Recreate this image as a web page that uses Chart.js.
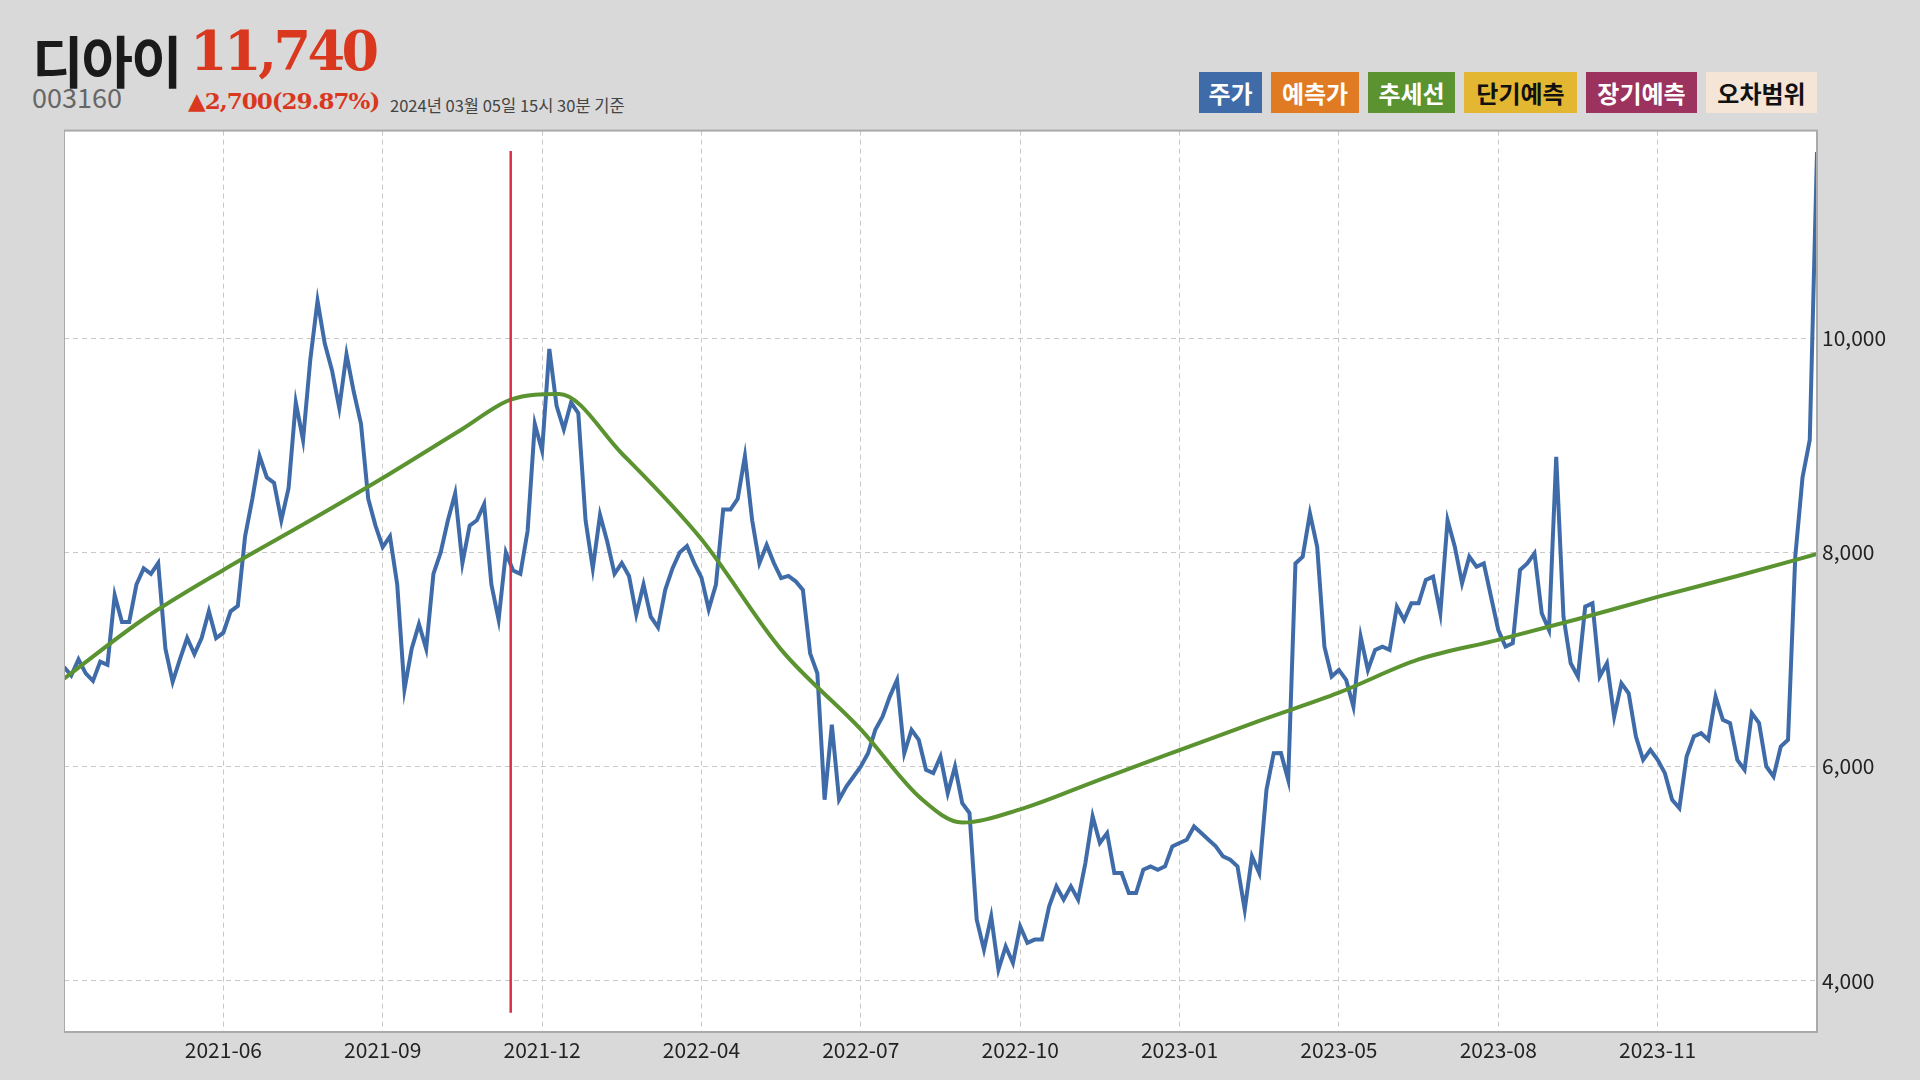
<!DOCTYPE html>
<html><head><meta charset="utf-8">
<script src="https://cdn.jsdelivr.net/npm/chart.js@4"></script>
<style>
html,body{margin:0;padding:0;width:1920px;height:1080px;background:#d9d9d9;overflow:hidden;font-family:"Noto Sans CJK KR","Noto Sans",sans-serif;}
#name{position:absolute;left:32px;top:18px;font-size:56px;font-weight:700;color:#1a1a1a;letter-spacing:-2px;}
#price{position:absolute;left:190px;top:19px;font-family:"DejaVu Serif",serif;font-size:54px;font-weight:700;color:#d9381e;letter-spacing:-3.5px;}
#code{position:absolute;left:32px;top:77px;font-size:27px;color:#666;}
#chg{position:absolute;left:188px;top:87px;font-family:"DejaVu Serif",serif;font-size:23px;font-weight:700;color:#d9381e;letter-spacing:-1px;}
#when{position:absolute;left:390px;top:93px;font-size:16.5px;color:#444;}
.lg{position:absolute;top:72px;height:41px;line-height:41px;text-align:center;font-size:24px;font-weight:700;}
#wrap{position:absolute;left:64px;top:113px;width:1856px;height:967px;}
</style></head><body>
<div id="name">디아이</div>
<div id="price">11,740</div>
<div id="code">003160</div>
<div id="chg">▲2,700(29.87%)</div>
<div id="when">2024년 03월 05일 15시 30분 기준</div>
<div class="lg" style="left:1199px;width:63px;background:#3f6ca9;color:#fff">주가</div>
<div class="lg" style="left:1271px;width:88px;background:#e07b24;color:#fff">예측가</div>
<div class="lg" style="left:1368px;width:87px;background:#5b9330;color:#fff">추세선</div>
<div class="lg" style="left:1464px;width:113px;background:#e3b732;color:#111">단기예측</div>
<div class="lg" style="left:1586px;width:111px;background:#9b335e;color:#fff">장기예측</div>
<div class="lg" style="left:1706px;width:111px;background:#f5e5d6;color:#111">오차범위</div>
<div id="wrap"><canvas id="c"></canvas></div>
<script>
const dayStep = 3;
const prices = [
6930,6850,7000,6870,6800,6980,6950,7600,7350,7350,7700,7850,7800,7900,7100,6790,7000,7200,7050,7200,7450,7200,7250,
7450,7500,8150,8500,8900,8700,8650,8300,8600,9400,9050,9800,10350,9950,9700,9350,9850,9500,9200,8500,8250,8050,8150,7700,6720,7100,7330,7100,7800,
8000,8300,8550,7900,8250,8300,8450,7700,7370,8000,7830,7800,8200,9200,8950,9900,9370,9150,9400,9300,8300,7850,8350,8100,7800,7900,7780,7420,7700,7400,7300,7650,7850,8000,8060,7900,7764,7469,7700,8400,8400,8500,8900,8300,7900,8070,7900,7760,7780,7730,7650,
7057,6870,5690,6390,5690,5813,5907,6000,6124,6342,6466,6653,6808,6124,6342,6248,5969,5938,6093,5751,6000,5658,5565,4569,4290,4600,4103,4320,4165,4507,4352,4383,4383,4694,4880,4756,4880,4756,5098,5534,5285,5378,5005,5005,4818,4818,5036,5067,5036,5067,5254,5285,5316,5440,5378,5316,5254,5160,5129,5067,4663,5160,5005,5782,6124,
6125,5876,7897,7960,8364,8053,7120,6840,6902,6809,6560,7213,6902,7089,7120,7089,7493,7369,7524,7524,7742,7773,7431,8302,8053,7711,7960,7866,7897,7586,7275,7120,7151,7835,7897,7991,7431,7275,8892,7400,6964,6840,7493,7524,6840,6964,6467,6778,6684,6280,6062,6156,6062,5938,5689,5612,6094,6280,6311,6249,6653,6436,6405,6062,5969,6498,6405,6000,5907,6187,6249,7960,8700,9050,
11740];
const trendDays = [0,33,66,99,132,165,185,205,231,264,297,330,355,372,396,429,462,495,528,561,594,627,660,693,726];
const trendValues = [6820,7378,7836,8260,8695,9153,9427,9480,8924,8122,7092,6347,5700,5477,5600,5878,6153,6427,6690,7000,7183,7378,7584,7779,7985];
const markerDay = 185;
const markerRange = [3700, 11750];
const tickDays = [66,132,198,264,330,396,462,528,594,660];
const tickLabels = ['2021-06','2021-09','2021-12','2022-04','2022-07','2022-10','2023-01','2023-05','2023-08','2023-11'];
const yTicks = [4000,6000,8000,10000];

const priceData = prices.map((v,i)=>({x:i*dayStep,y:v}));
const trendData = trendDays.map((d,i)=>({x:d,y:trendValues[i]}));
const markerData = markerRange.map(v=>({x:markerDay,y:v}));

const frame = {id:'frame',
 beforeDraw(ch){const a=ch.chartArea,c=ch.ctx;c.save();c.fillStyle='#fff';c.fillRect(a.left,a.top,a.right-a.left,a.bottom-a.top);c.restore();},
 afterDraw(ch){const a=ch.chartArea,c=ch.ctx;c.save();c.strokeStyle='#aaa';c.lineWidth=2;c.strokeRect(a.left,a.top,a.right-a.left,a.bottom-a.top);c.restore();}};

new Chart(document.getElementById('c'),{
 type:'line',
 data:{datasets:[
  {data:markerData,borderColor:'#d9304a',borderWidth:2.5,pointRadius:0,tension:0},
  {data:trendData,borderColor:'#5b9330',borderWidth:4,pointRadius:0,tension:0.35,cubicInterpolationMode:'monotone'},
  {data:priceData,borderColor:'#3f6ca9',borderWidth:4,pointRadius:0,tension:0}
 ]},
 options:{responsive:true,maintainAspectRatio:false,animation:false,
  layout:{padding:0},
  plugins:{legend:{display:false},tooltip:{enabled:false}},
  scales:{
   x:{type:'linear',min:0,max:726,
     afterBuildTicks(ax){ax.ticks=tickDays.map(v=>({value:v}));},
     afterFit(ax){ax.height=48;},
     ticks:{autoSkip:false,maxRotation:0,color:'#222',font:{size:21,family:'Noto Sans CJK KR'},padding:5,
       callback(v){const i=tickDays.indexOf(v);return i>=0?tickLabels[i]:'';}},
     grid:{color:'#c8c8c8',lineWidth:1,drawTicks:false},border:{display:false,dash:[5,4]}},
   y:{position:'right',min:3520,max:11940,
     afterBuildTicks(ax){ax.ticks=yTicks.map(v=>({value:v}));},
     afterFit(ax){ax.width=103;},
     ticks:{color:'#222',font:{size:21,family:'Noto Sans CJK KR'},padding:5,
       callback(v){return v.toLocaleString('en-US');}},
     grid:{color:'#c8c8c8',lineWidth:1,drawTicks:false},border:{display:false,dash:[5,4]}}
  }},
 plugins:[frame]
});
</script></body></html>
